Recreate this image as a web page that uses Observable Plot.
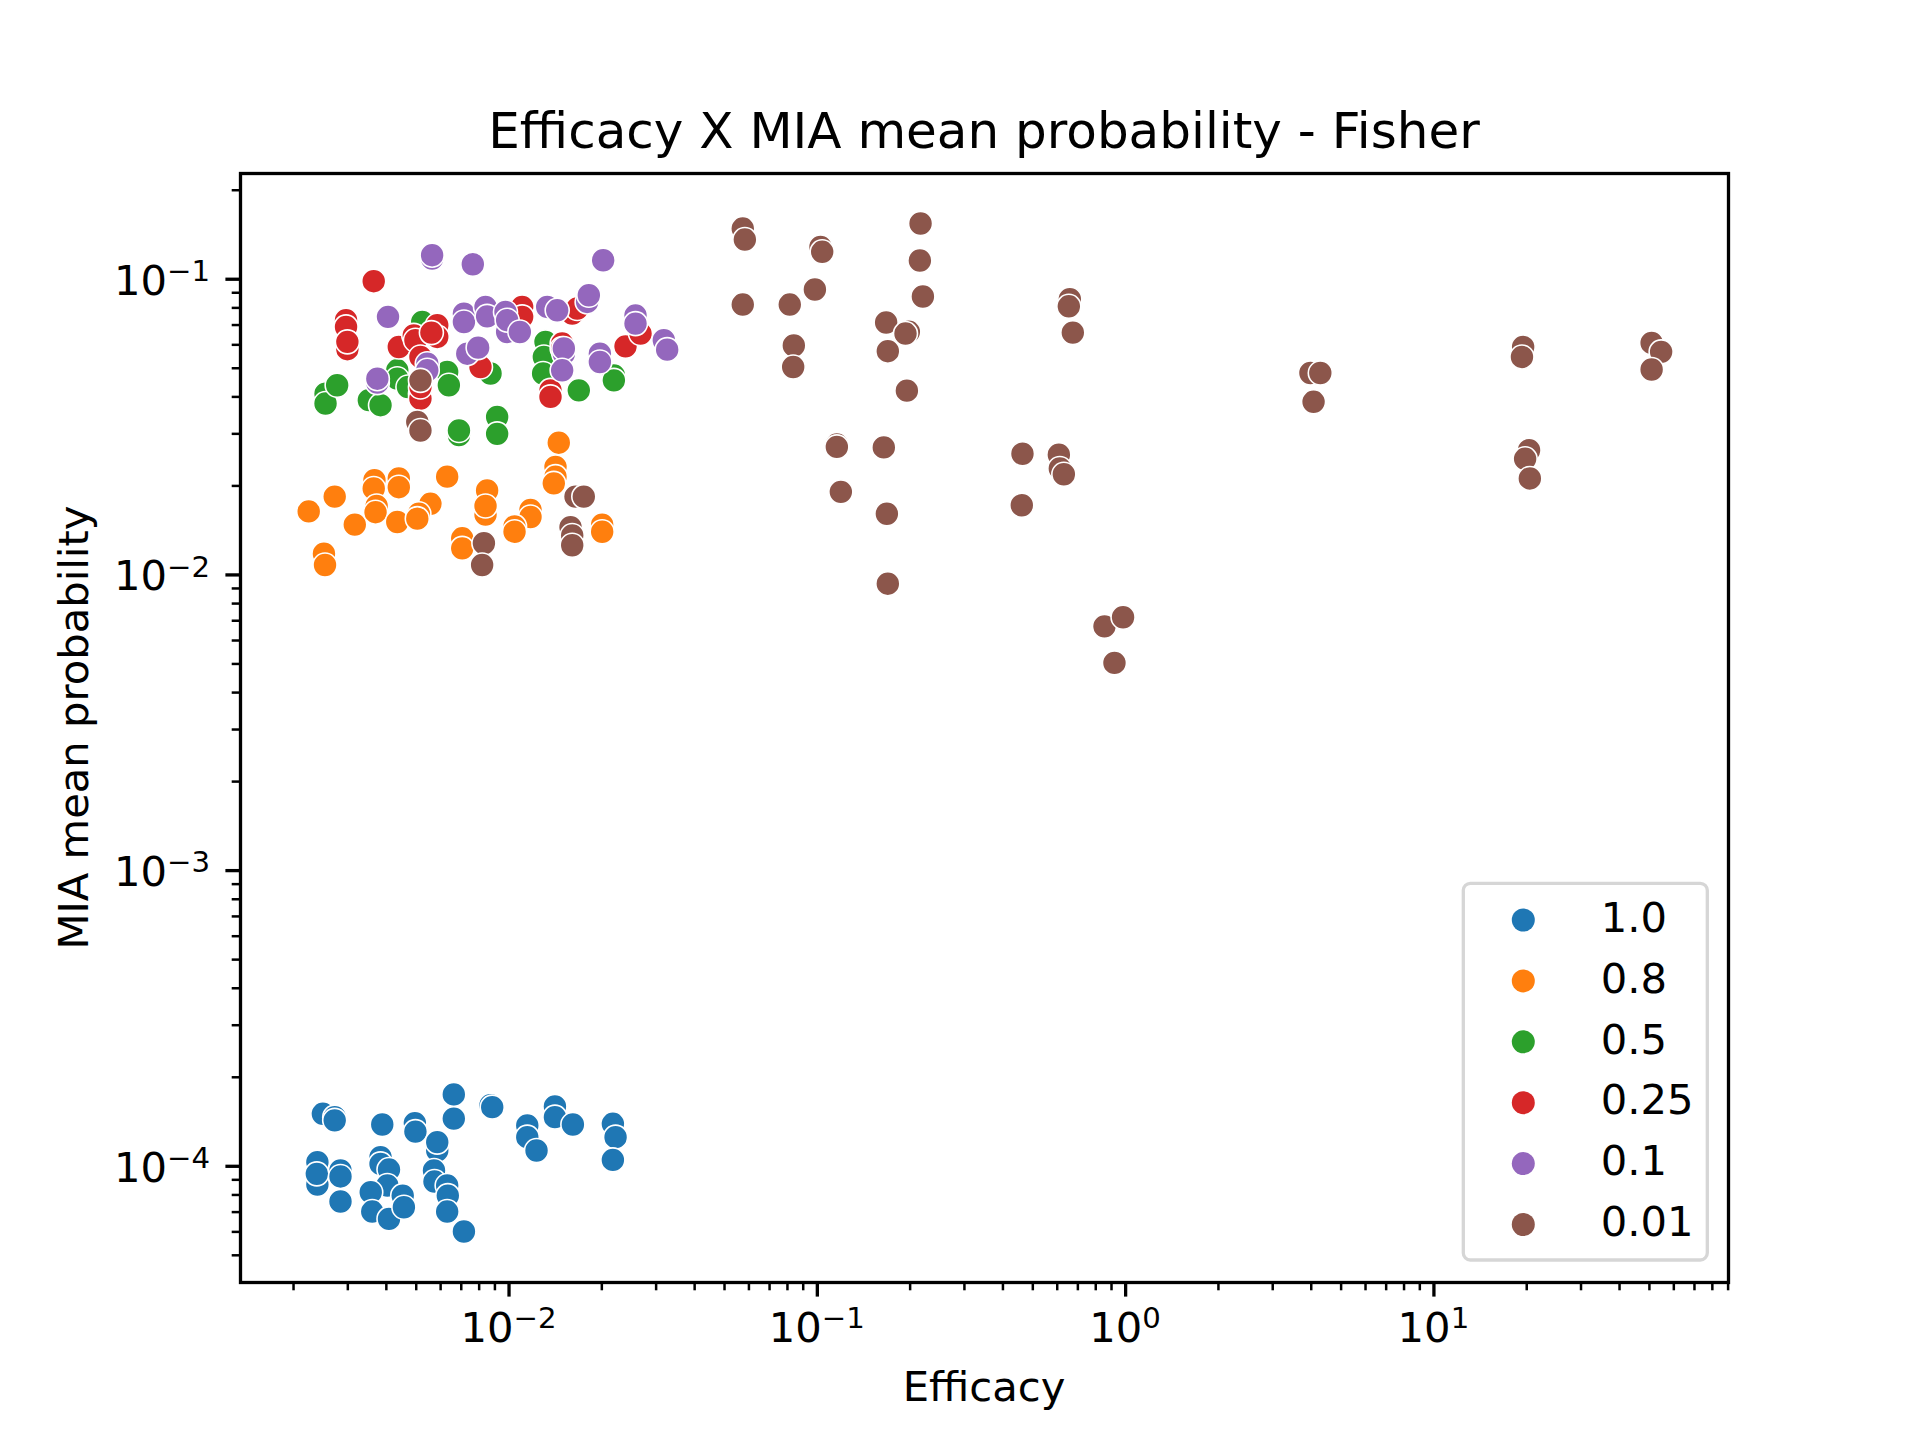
<!DOCTYPE html>
<html>
<head>
<meta charset="utf-8">
<script src="https://cdn.jsdelivr.net/npm/d3@7"></script>
<script src="https://cdn.jsdelivr.net/npm/@observablehq/plot@0.6"></script>
<style>
  html, body { margin: 0; padding: 0; background: #fff; }
  svg { display: block; }
</style>
</head>
<body>
<div id="chart"></div>
<script>
// ---------------- data ----------------
const chartTitle = "Efficacy X MIA mean probability - Fisher";
const xLabel = "Efficacy";
const yLabel = "MIA mean probability";

const hueLevels = ["1.0", "0.8", "0.5", "0.25", "0.1", "0.01"];
const palette = ["#1f77b4", "#ff7f0e", "#2ca02c", "#d62728", "#9467bd", "#8c564b"];

const xMajorTicks = [1e-2, 1e-1, 1, 10];
const yMajorTicks = [1e-4, 1e-3, 1e-2, 1e-1];
const xTickExp = ["\u22122", "\u22121", "0", "1"];
const yTickExp = ["\u22124", "\u22123", "\u22122", "\u22121"];

const eff_1_0 = [0.00249,0.00272,0.00272,0.00388,0.00495,0.00497,0.00662,0.00662,0.00871,0.00882,
  0.01146,0.01146,0.01228,0.01409,0.01409,0.01611,0.02172,0.02216,0.02172,0.00239,
  0.00239,0.00238,0.00284,0.00284,0.00284,0.00383,0.00383,0.00408,0.00403,0.00356,
  0.00360,0.00408,0.00452,0.00456,0.00585,0.00585,0.00571,0.00573,0.00630,0.00633,
  0.00630,0.00714];
const mia_1_0 = [1.505e-4,1.466e-4,1.43e-4,1.385e-4,1.40e-4,1.31e-4,1.75e-4,1.45e-4,1.61e-4,1.585e-4,
  1.374e-4,1.255e-4,1.131e-4,1.594e-4,1.466e-4,1.385e-4,1.392e-4,1.255e-4,1.051e-4,1.033e-4,
  8.68e-5,9.43e-5,9.68e-5,9.24e-5,7.60e-5,1.074e-4,1.019e-4,9.75e-5,8.61e-5,8.17e-5,
  7.03e-5,6.64e-5,7.96e-5,7.27e-5,1.131e-4,1.207e-4,9.68e-5,8.88e-5,8.61e-5,7.96e-5,
  7.03e-5,6.02e-5];

const eff_0_8 = [0.00224,0.00272,0.00251,0.00253,0.00316,0.00366,0.00364,0.00372,0.00369,0.00439,
  0.00439,0.00434,0.00556,0.00510,0.00504,0.00630,0.00849,0.00839,0.00839,0.00705,
  0.00705,0.01174,0.01174,0.01042,0.01042,0.01450,0.01415,0.01415,0.01397,0.02005,0.02005];
const mia_0_8 = [0.0164,0.0184,0.0118,0.0108,0.0148,0.0209,0.0196,0.0171,0.0163,0.0212,
  0.0198,0.0151,0.0174,0.0161,0.0155,0.0215,0.0193,0.0160,0.0171,0.0133,
  0.0123,0.0166,0.0157,0.0146,0.0140,0.0280,0.0232,0.0215,0.0204,0.0148,0.0140];

const eff_0_5 = [0.00523,0.00254,0.00254,0.00277,0.00351,0.00383,0.00434,0.00434,0.00470,0.00630,
  0.00638,0.00871,0.00915,0.00915,0.00688,0.00688,0.01313,0.01297,0.01290,0.01684,
  0.02188,0.02188];
const mia_0_5 = [0.0717,0.0410,0.0380,0.0438,0.0390,0.0375,0.0492,0.0461,0.0432,0.0486,
  0.0438,0.0480,0.0342,0.0300,0.0297,0.0308,0.0614,0.0546,0.0480,0.0421,
  0.0473,0.0455];

const eff_0_25 = [0.00364,0.00296,0.00296,0.00299,0.00299,0.00439,0.00491,0.00497,0.00585,0.00585,
  0.00560,0.00516,0.00516,0.00516,0.00516,0.00808,0.01103,0.01103,0.01603,0.01664,
  0.01487,0.01487,0.02387,0.02670,0.01363,0.01363];
const mia_0_25 = [0.0985,0.0727,0.0690,0.0580,0.0614,0.0590,0.0646,0.0622,0.0699,0.0638,
  0.0660,0.0546,0.0410,0.0395,0.0432,0.0505,0.0806,0.0746,0.0765,0.0796,
  0.0606,0.0583,0.0593,0.0655,0.0421,0.0400];

const eff_0_1 = [0.00563,0.00563,0.00763,0.00405,0.00714,0.00714,0.00839,0.00849,0.00986,0.00732,
  0.00794,0.00543,0.00543,0.00374,0.00374,0.0202,0.00974,0.00986,0.01084,0.01330,
  0.01433,0.01792,0.01815,0.02572,0.02572,0.03178,0.03258,0.01506,0.01506,0.01487,
  0.01971,0.01971];
const mia_0_1 = [0.1175,0.1206,0.1124,0.0746,0.0765,0.0717,0.0806,0.0749,0.0663,0.0560,
  0.0587,0.0518,0.0492,0.0447,0.0461,0.1159,0.0775,0.0727,0.0663,0.0806,
  0.0785,0.0838,0.0883,0.0755,0.0708,0.0622,0.0578,0.0560,0.0583,0.0492,
  0.0560,0.0525];

const eff_0_01 = [0.00516,0.00504,0.00516,0.01643,0.01748,0.01583,0.01603,0.01603,0.00829,0.00818,
  0.0573,0.0582,0.1024,0.1037,0.2162,0.2151,0.2200,0.0573,0.0814,0.0982,
  0.1672,0.1981,0.1932,0.1693,0.0839,0.0835,0.1952,0.6592,0.6543,0.6741,
  0.1157,0.1157,0.1643,0.1192,0.1681,0.1693,0.4628,0.6073,0.6118,0.6304,
  0.4605,0.854,0.981,0.920,
  3.976,4.280,4.070,19.47,19.30,20.35,19.76,20.47,50.83,54.57,50.83];
const mia_0_01 = [0.0455,0.0329,0.0308,0.0184,0.0184,0.0145,0.0136,0.0126,0.0128,0.0108,
  0.1484,0.1362,0.1286,0.1238,0.1543,0.1157,0.0874,0.0821,0.0821,0.0923,
  0.0714,0.0664,0.0655,0.0571,0.0597,0.0505,0.0420,0.0856,0.0810,0.0660,
  0.0276,0.0271,0.0270,0.0191,0.0161,0.00934,0.0257,0.0255,0.0229,0.0219,
  0.0172,0.0067,0.00719,0.00504,
  0.0482,0.0482,0.0385,0.0590,0.0546,0.0264,0.0247,0.0212,0.0609,0.0568,0.0495];

// ---------------- build ----------------
const effSeries = [eff_1_0, eff_0_8, eff_0_5, eff_0_25, eff_0_1, eff_0_01];
const miaSeries = [mia_1_0, mia_0_8, mia_0_5, mia_0_25, mia_0_1, mia_0_01];
const series = hueLevels.map((lvl, i) => ({
  level: lvl,
  color: palette[i],
  rows: effSeries[i].map((e, j) => ({level: lvl, eff: e, mia: miaSeries[i][j]}))
}));

// log-space axis limits (matplotlib auto margins)
const xDomain = [Math.pow(10, -2.871), Math.pow(10, 1.9555)];
const yDomain = [Math.pow(10, -4.393), Math.pow(10, -0.6424)];

function minorTicks(domain) {
  const out = [];
  const lo = Math.floor(Math.log10(domain[0])), hi = Math.ceil(Math.log10(domain[1]));
  for (let k = lo; k <= hi; k++) for (let m = 2; m <= 9; m++) {
    const v = m * Math.pow(10, k);
    if (v >= domain[0] && v <= domain[1]) out.push(v);
  }
  return out;
}
const xMinorTicks = minorTicks(xDomain);
const yMinorTicks = minorTicks(yDomain);

const W = 1920, H = 1440;
const ML = 240, MR = 192, MT = 173, MB = 158;
const FS = 41.7;

const plot = Plot.plot({
  width: W, height: H,
  marginLeft: ML, marginRight: MR, marginTop: MT, marginBottom: MB,
  style: {fontFamily: "'DejaVu Sans', sans-serif", fontSize: FS + "px", background: "#fff", color: "#000", overflow: "visible"},
  x: {type: "log", domain: xDomain, label: null},
  y: {type: "log", domain: yDomain, label: null},
  marks: [
    ...series.map(s => Plot.dot(s.rows, {x: "eff", y: "mia", r: 12, fill: s.color, fillOpacity: 1, stroke: "#fff", strokeWidth: 1.6})),
    Plot.axisX({anchor: "bottom", ticks: xMinorTicks, tickSize: 8.3, strokeWidth: 2.5, tickFormat: () => "", label: null}),
    Plot.axisX({anchor: "bottom", ticks: xMajorTicks, tickSize: 14.6, strokeWidth: 3.3, tickFormat: () => "", label: null}),
    Plot.axisY({anchor: "left", ticks: yMinorTicks, tickSize: 8.3, strokeWidth: 2.5, tickFormat: () => "", label: null}),
    Plot.axisY({anchor: "left", ticks: yMajorTicks, tickSize: 14.6, strokeWidth: 3.3, tickFormat: () => "", label: null}),
    Plot.frame({stroke: "#000", strokeWidth: 3.3})
  ]
});

document.getElementById("chart").appendChild(plot);

// ---------------- text & legend ----------------
const svg = d3.select(plot);
const sx = plot.scale("x"), sy = plot.scale("y");
const font = "'DejaVu Sans', sans-serif";
const supSize = FS * 0.7;

const g = svg.append("g").attr("font-family", font).attr("fill", "#000");

xMajorTicks.forEach((v, i) => {
  const t = g.append("text").attr("x", sx.apply(v)).attr("y", 1342)
    .attr("text-anchor", "middle").attr("font-size", FS);
  t.append("tspan").text("10");
  t.append("tspan").attr("font-size", supSize).attr("dy", -13.7).text(xTickExp[i]);
});
yMajorTicks.forEach((v, i) => {
  const t = g.append("text").attr("x", 210).attr("y", sy.apply(v) + 16)
    .attr("text-anchor", "end").attr("font-size", FS);
  t.append("tspan").text("10");
  t.append("tspan").attr("font-size", supSize).attr("dy", -13.7).text(yTickExp[i]);
});

g.append("text").attr("x", (ML + W - MR) / 2).attr("y", 148).attr("text-anchor", "middle")
  .attr("font-size", 50).text(chartTitle);
g.append("text").attr("x", (ML + W - MR) / 2).attr("y", 1401).attr("text-anchor", "middle")
  .attr("font-size", FS).text(xLabel);
g.append("text").attr("transform", `translate(88,${(MT + H - MB) / 2}) rotate(-90)`)
  .attr("text-anchor", "middle").attr("font-size", FS).text(yLabel);

// legend
const lg = svg.append("g").attr("font-family", font);
lg.append("rect").attr("x", 1463.3).attr("y", 883.3).attr("width", 244).attr("height", 376.7)
  .attr("rx", 7).attr("fill", "#fff").attr("fill-opacity", 0.8)
  .attr("stroke", "#d6d6d6").attr("stroke-width", 3.3);
hueLevels.forEach((lvl, i) => {
  const cy = 920 + 60.9 * i;
  lg.append("circle").attr("cx", 1523.3).attr("cy", cy).attr("r", 11.5).attr("fill", palette[i]);
  lg.append("text").attr("x", 1600.7).attr("y", cy + 11.7).attr("text-anchor", "start")
    .attr("font-size", FS).attr("fill", "#000").text(lvl);
});
</script>
</body>
</html>
